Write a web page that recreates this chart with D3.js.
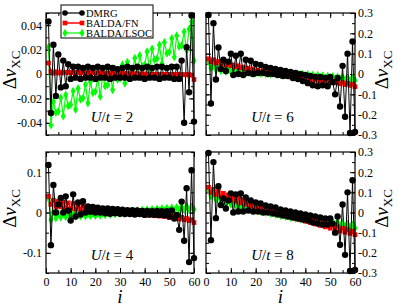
<!DOCTYPE html>
<meta charset="utf-8">
<style>
  body { margin: 0; background: #fff; }
  text { font-family: "Liberation Serif", "DejaVu Serif", serif; fill: #000; }
  .tick text { font-size: 12px; }
  .legend text { font-size: 10.5px; }
</style>
<svg width="399" height="308"></svg>
<script src="https://d3js.org/d3.v7.min.js"></script>
<script>

// sites
var sites = d3.range(1, 61);
var xTicks = [0, 10, 20, 30, 40, 50, 60];

// U/t = 2
var dmrgU2 = [0.043, -0.032, 0.024, -0.018, 0.016, -0.011, 0.011, -0.010, 0.008, -0.004,
  0.006, -0.003, 0.006, -0.004, 0.005, -0.003, 0.006, -0.003, 0.005, -0.004,
  0.006, -0.003, 0.005, -0.003, 0.006, -0.004, 0.005, -0.003, 0.004, -0.003,
  0.005, -0.003, 0.006, -0.004, 0.005, -0.003, 0.006, -0.003, 0.005, -0.004,
  0.006, -0.003, 0.005, -0.003, 0.006, -0.004, 0.006, -0.003, 0.005, -0.003,
  0.006, -0.004, 0.006, -0.004, 0.011, -0.040, 0.022, -0.015, 0.048, -0.039];
var fnU2 = [0.009, 0.002, 0.0006, 0.0019, 0.0008, 0.0016, 0.0009, 0.0015, 0.001, 0.0014,
  0.0011, 0.0013, 0.0011, 0.0012, 0.0010, 0.0012, 0.0010, 0.0011, 0.0009, 0.0010,
  0.0008, 0.0009, 0.0007, 0.0008, 0.0006, 0.0007, 0.0005, 0.0006, 0.0004, 0.0005,
  0.0003, 0.0004, 0.0002, 0.0003, 0.0001, 0.0002, 0.0000, 0.0001, -0.0001, 0.0000,
  -0.0002, -0.0001, -0.0003, -0.0002, -0.0003, -0.0002, -0.0004, -0.0003, -0.0004, -0.0003,
  -0.0005, -0.0004, -0.0005, -0.0004, -0.0006, -0.0005, -0.0007, -0.0004, -0.0010, -0.0045];
var lsocU2 = [0.022, -0.042, -0.0226, -0.0316, -0.0306, -0.0194, -0.0346, -0.0172, -0.0262, -0.0252,
  -0.0140, -0.0292, -0.0118, -0.0208, -0.0198, -0.0086, -0.0238, -0.0064, -0.0154, -0.0144,
  -0.0032, -0.0184, -0.0010, -0.0100, -0.0090, 0.0022, -0.0130, 0.0044, -0.0046, -0.0036,
  0.0076, -0.0076, 0.0098, 0.0008, 0.0018, 0.0130, -0.0022, 0.0152, 0.0062, 0.0072,
  0.0184, 0.0032, 0.0206, 0.0116, 0.0126, 0.0238, 0.0086, 0.0260, 0.0170, 0.0180,
  0.0292, 0.0140, 0.0314, 0.0224, 0.0234, 0.0346, 0.0194, 0.0368, 0.043, 0.011];

// U/t = 6
var dmrgU6 = [0.29, -0.145, 0.25, -0.027, 0.13, 0.025, 0.07, 0.015, 0.06, 0.10,
  -0.005, 0.09, 0.0, 0.10, -0.005, 0.07, 0.005, 0.065, 0.0, 0.05,
  0.005, 0.045, 0.005, 0.035, 0.0, 0.03, 0.0, 0.025, -0.005, 0.02,
  -0.01, 0.015, -0.01, 0.01, -0.02, 0.005, -0.025, 0.0, -0.035, -0.005,
  -0.045, -0.01, -0.055, -0.015, -0.06, -0.015, -0.055, -0.02, -0.06, -0.015,
  -0.04, -0.10, -0.02, -0.16, 0.04, -0.21, 0.10, -0.29, 0.16, -0.285];
var fnU6 = [0.075, 0.06, 0.07, 0.055, 0.062, 0.05, 0.056, 0.045, 0.05, 0.04,
  0.045, 0.035, 0.04, 0.03, 0.034, 0.025, 0.029, 0.02, 0.024, 0.015,
  0.019, 0.01, 0.014, 0.006, 0.01, 0.002, 0.006, -0.002, 0.002, -0.006,
  -0.002, -0.01, -0.006, -0.014, -0.01, -0.017, -0.013, -0.021, -0.016, -0.024,
  -0.02, -0.028, -0.023, -0.031, -0.027, -0.035, -0.03, -0.038, -0.033, -0.041,
  -0.036, -0.044, -0.04, -0.048, -0.043, -0.052, -0.046, -0.056, -0.05, -0.062];
var lsocU6 = [0.06, 0.03, 0.04, 0.02, 0.03, 0.015, 0.025, 0.012, 0.022, 0.01,
  0.02, 0.008, 0.018, 0.007, 0.016, 0.005, 0.015, 0.004, 0.013, 0.003,
  0.012, 0.002, 0.011, 0.0, 0.01, -0.001, 0.008, -0.002, 0.007, -0.003,
  0.006, -0.005, 0.004, -0.006, 0.003, -0.008, 0.001, -0.009, 0.0, -0.011,
  -0.002, -0.013, -0.004, -0.015, -0.006, -0.017, -0.008, -0.019, -0.01, -0.021,
  -0.012, -0.023, -0.014, -0.025, -0.016, -0.027, -0.018, -0.03, -0.02, -0.032];

// U/t = 4
var dmrgU4 = [0.118, -0.081, 0.068, 0.0, 0.02, 0.036, 0.0, 0.04, 0.005, -0.02,
  0.045, -0.01, 0.025, -0.005, 0.028, 0.0, 0.015, 0.002, 0.014, 0.0,
  0.012, 0.0, 0.01, -0.002, 0.01, -0.003, 0.009, -0.002, 0.008, -0.003,
  0.007, -0.004, 0.006, -0.004, 0.006, -0.005, 0.005, -0.004, 0.004, -0.006,
  0.004, -0.005, 0.003, -0.006, 0.004, -0.006, 0.003, -0.007, 0.003, -0.01,
  0.005, -0.015, -0.006, -0.043, 0.027, -0.07, 0.06, -0.123, 0.105, -0.113];
var fnU4 = [0.04, 0.02, 0.03, 0.015, 0.028, 0.014, 0.026, 0.012, 0.024, 0.01,
  0.022, 0.009, 0.02, 0.008, 0.017, 0.007, 0.014, 0.006, 0.012, 0.005,
  0.01, 0.004, 0.008, 0.003, 0.006, 0.002, 0.005, 0.0, 0.003, -0.001,
  0.002, -0.002, 0.0, -0.003, -0.001, -0.004, -0.002, -0.005, -0.003, -0.006,
  -0.004, -0.007, -0.005, -0.008, -0.006, -0.009, -0.007, -0.01, -0.008, -0.012,
  -0.009, -0.014, -0.01, -0.016, -0.012, -0.018, -0.015, -0.02, -0.018, -0.025];
var lsocU4 = [0.035, -0.018, 0.0, -0.014, -0.002, -0.012, -0.003, -0.011, -0.004, -0.01,
  -0.004, -0.01, -0.004, -0.009, -0.004, -0.009, -0.004, -0.008, -0.003, -0.008,
  -0.003, -0.007, -0.002, -0.006, -0.001, -0.005, 0.0, -0.004, 0.001, -0.003,
  0.002, -0.002, 0.003, -0.001, 0.004, 0.0, 0.005, 0.001, 0.006, 0.002,
  0.007, 0.003, 0.008, 0.003, 0.009, 0.004, 0.01, 0.004, 0.011, 0.005,
  0.012, 0.005, 0.013, 0.006, 0.015, 0.006, 0.016, 0.007, 0.014, 0.008];

// U/t = 8
var dmrgU8 = [0.295, -0.137, 0.25, -0.028, 0.13, 0.037, 0.07, 0.02, 0.06, 0.095,
  0.0, 0.09, 0.005, 0.095, 0.005, 0.075, 0.01, 0.06, 0.005, 0.05,
  0.005, 0.045, 0.0, 0.035, 0.0, 0.03, -0.005, 0.025, -0.01, 0.015,
  -0.015, 0.01, -0.02, 0.005, -0.025, 0.0, -0.03, -0.005, -0.035, -0.01,
  -0.04, -0.015, -0.05, -0.02, -0.055, -0.025, -0.06, -0.03, -0.06, -0.03,
  -0.055, -0.10, -0.02, -0.16, 0.04, -0.21, 0.10, -0.29, 0.16, -0.285];
var fnU8 = [0.125, 0.1, 0.115, 0.09, 0.105, 0.08, 0.095, 0.072, 0.087, 0.064,
  0.079, 0.056, 0.071, 0.048, 0.063, 0.041, 0.055, 0.034, 0.048, 0.027,
  0.041, 0.02, 0.034, 0.013, 0.027, 0.006, 0.02, -0.001, 0.013, -0.008,
  0.006, -0.015, -0.001, -0.022, -0.008, -0.029, -0.015, -0.036, -0.022, -0.043,
  -0.029, -0.05, -0.036, -0.057, -0.043, -0.064, -0.05, -0.071, -0.057, -0.078,
  -0.064, -0.085, -0.071, -0.092, -0.078, -0.098, -0.085, -0.104, -0.092, -0.11];
var lsocU8 = [0.11, 0.08, 0.09, 0.065, 0.08, 0.055, 0.07, 0.048, 0.062, 0.04,
  0.055, 0.034, 0.048, 0.028, 0.042, 0.022, 0.036, 0.016, 0.03, 0.01,
  0.024, 0.005, 0.018, 0.0, 0.012, -0.005, 0.007, -0.01, 0.002, -0.015,
  -0.003, -0.02, -0.008, -0.025, -0.012, -0.029, -0.016, -0.033, -0.02, -0.037,
  -0.024, -0.041, -0.028, -0.045, -0.032, -0.049, -0.036, -0.053, -0.04, -0.057,
  -0.044, -0.061, -0.048, -0.065, -0.052, -0.069, -0.056, -0.073, -0.06, -0.078];

var seriesNames = ["DMRG", "BALDA/FN", "BALDA/LSOC"];

var panels = [
  {u: 2, x0: 46, x1: 194, y0: 13, y1: 135, ymax: 0.05, major: [-0.04, -0.02, 0, 0.02, 0.04], minor: 0.01, side: "left", xlab: false,
   data: [dmrgU2, fnU2, lsocU2]},
  {u: 6, x0: 206, x1: 355, y0: 13, y1: 135, ymax: 0.3, major: [-0.3, -0.2, -0.1, 0, 0.1, 0.2, 0.3], minor: 0.05, side: "right", xlab: false,
   data: [dmrgU6, fnU6, lsocU6]},
  {u: 4, x0: 46, x1: 194, y0: 152, y1: 273, ymax: 0.15, major: [-0.1, 0, 0.1], minor: 0.05, side: "left", xlab: true,
   data: [dmrgU4, fnU4, lsocU4]},
  {u: 8, x0: 206, x1: 355, y0: 152, y1: 273, ymax: 0.3, major: [-0.3, -0.2, -0.1, 0, 0.1, 0.2, 0.3], minor: 0.05, side: "right", xlab: true,
   data: [dmrgU8, fnU8, lsocU8]}
];

var svg = d3.select("svg");

function fmt(d) {
  if (Math.abs(d) < 1e-9) return "0";
  return String(+d.toFixed(2));
}

function stepTicks(lo, hi, step) {
  var out = [];
  var n = Math.round((hi - lo) / step);
  for (var k = 0; k <= n; k++) out.push(+(lo + k * step).toFixed(4));
  return out;
}

var diamond = d3.symbol().type(d3.symbolDiamond).size(22);
var square = d3.symbol().type(d3.symbolSquare).size(22);

panels.forEach(function(p) {
  var x = d3.scaleLinear().domain([0, 60]).range([p.x0, p.x1]);
  var y = d3.scaleLinear().domain([-p.ymax, p.ymax]).range([p.y1, p.y0]);
  var g = svg.append("g");

  var yMinor = stepTicks(-p.ymax, p.ymax, p.minor);
  var xMinor = d3.range(0, 61, 5);

  // axes, ticks inward on all four sides
  g.append("g").attr("transform", "translate(0," + p.y1 + ")")
    .call(d3.axisBottom(x).tickValues(xMinor).tickSize(-3).tickFormat(""));
  g.append("g").attr("transform", "translate(0," + p.y1 + ")")
    .call(d3.axisBottom(x).tickValues(xTicks).tickSize(-5).tickPadding(4)
      .tickFormat(p.xlab ? d3.format("d") : ""));
  g.append("g").attr("transform", "translate(0," + p.y0 + ")")
    .call(d3.axisTop(x).tickValues(xMinor).tickSize(-3).tickFormat(""));
  g.append("g").attr("transform", "translate(0," + p.y0 + ")")
    .call(d3.axisTop(x).tickValues(xTicks).tickSize(-5).tickFormat(""));

  var lab = p.side === "left";
  g.append("g").attr("transform", "translate(" + p.x0 + ",0)")
    .call(d3.axisLeft(y).tickValues(yMinor).tickSize(-3).tickFormat(""));
  g.append("g").attr("transform", "translate(" + p.x0 + ",0)")
    .call(d3.axisLeft(y).tickValues(p.major).tickSize(-5).tickPadding(4)
      .tickFormat(lab ? fmt : ""));
  g.append("g").attr("transform", "translate(" + p.x1 + ",0)")
    .call(d3.axisRight(y).tickValues(yMinor).tickSize(-3).tickFormat(""));
  g.append("g").attr("transform", "translate(" + p.x1 + ",0)")
    .call(d3.axisRight(y).tickValues(p.major).tickSize(-5).tickPadding(3)
      .tickFormat(lab ? "" : fmt));

  g.selectAll(".domain").remove();
  g.selectAll(".tick line").attr("stroke", "#000");

  // series: LSOC, FN, then DMRG on top
  var line = d3.line().x(function(d, i) { return x(sites[i]); }).y(function(d) { return y(d); });

  g.append("path").datum(p.data[2]).attr("d", line)
    .attr("fill", "none").attr("stroke", "#00ff00").attr("stroke-width", 1.2);
  g.selectAll(".ls").data(p.data[2]).enter().append("path")
    .attr("d", diamond)
    .attr("transform", function(d, i) { return "translate(" + x(sites[i]) + "," + y(d) + ")"; })
    .attr("fill", "#00ff00");

  g.append("path").datum(p.data[1]).attr("d", line)
    .attr("fill", "none").attr("stroke", "#ff0000").attr("stroke-width", 1.5);
  g.selectAll(".fn").data(p.data[1]).enter().append("path")
    .attr("d", square)
    .attr("transform", function(d, i) { return "translate(" + x(sites[i]) + "," + y(d) + ")"; })
    .attr("fill", "#ff0000");

  g.append("path").datum(p.data[0]).attr("d", line)
    .attr("fill", "none").attr("stroke", "#000").attr("stroke-width", 1);
  g.selectAll(".dm").data(p.data[0]).enter().append("circle")
    .attr("cx", function(d, i) { return x(sites[i]); })
    .attr("cy", function(d) { return y(d); })
    .attr("r", 3.2).attr("fill", "#000");

  // frame
  g.append("rect").attr("x", p.x0).attr("y", p.y0)
    .attr("width", p.x1 - p.x0).attr("height", p.y1 - p.y0)
    .attr("fill", "none").attr("stroke", "#000").attr("stroke-width", 1.2);

  // U/t label
  var cx = (p.x0 + p.x1) / 2 - 8;
  var ut = g.append("text").attr("x", cx).attr("y", p.y1 - 13)
    .attr("text-anchor", "middle").style("font-size", "15px");
  ut.append("tspan").style("font-style", "italic").text("U");
  ut.append("tspan").text("/");
  ut.append("tspan").style("font-style", "italic").text("t");
  ut.append("tspan").text(" = " + p.u);

  // y label
  var yc = (p.y0 + p.y1) / 2 - 4;
  var lx = lab ? 16 : 388;
  var yl = g.append("text")
    .attr("transform", "translate(" + lx + "," + yc + ") rotate(-90)")
    .attr("text-anchor", "middle").style("font-size", "19px");
  yl.append("tspan").text("\u0394");
  yl.append("tspan").style("font-style", "italic").text("v");
  yl.append("tspan").attr("dy", 4).style("font-size", "13px").text("XC");

  // x label
  if (p.xlab) {
    g.append("text").attr("x", (p.x0 + p.x1) / 2).attr("y", 303)
      .attr("text-anchor", "middle").style("font-size", "19px").style("font-style", "italic")
      .text("i");
  }
});

// legend in the first panel
var leg = svg.append("g").attr("class", "legend");
leg.append("rect").attr("x", 61).attr("y", 5).attr("width", 92).attr("height", 33)
  .attr("fill", "#fff").attr("stroke", "#000").attr("stroke-width", 1);
var legColors = ["#000", "#ff0000", "#00ff00"];
seriesNames.forEach(function(name, k) {
  var ly = 13 + k * 10;
  leg.append("line").attr("x1", 65).attr("x2", 82).attr("y1", ly).attr("y2", ly)
    .attr("stroke", legColors[k]).attr("stroke-width", k === 1 ? 1.5 : 1.2);
  [65, 82].forEach(function(mx) {
    if (k === 0) leg.append("circle").attr("cx", mx).attr("cy", ly).attr("r", 2.8).attr("fill", "#000");
    else leg.append("path").attr("d", k === 1 ? square : diamond)
      .attr("transform", "translate(" + mx + "," + ly + ")").attr("fill", legColors[k]);
  });
  leg.append("text").attr("x", 86).attr("y", ly + 3.8).text(name);
});

</script>
